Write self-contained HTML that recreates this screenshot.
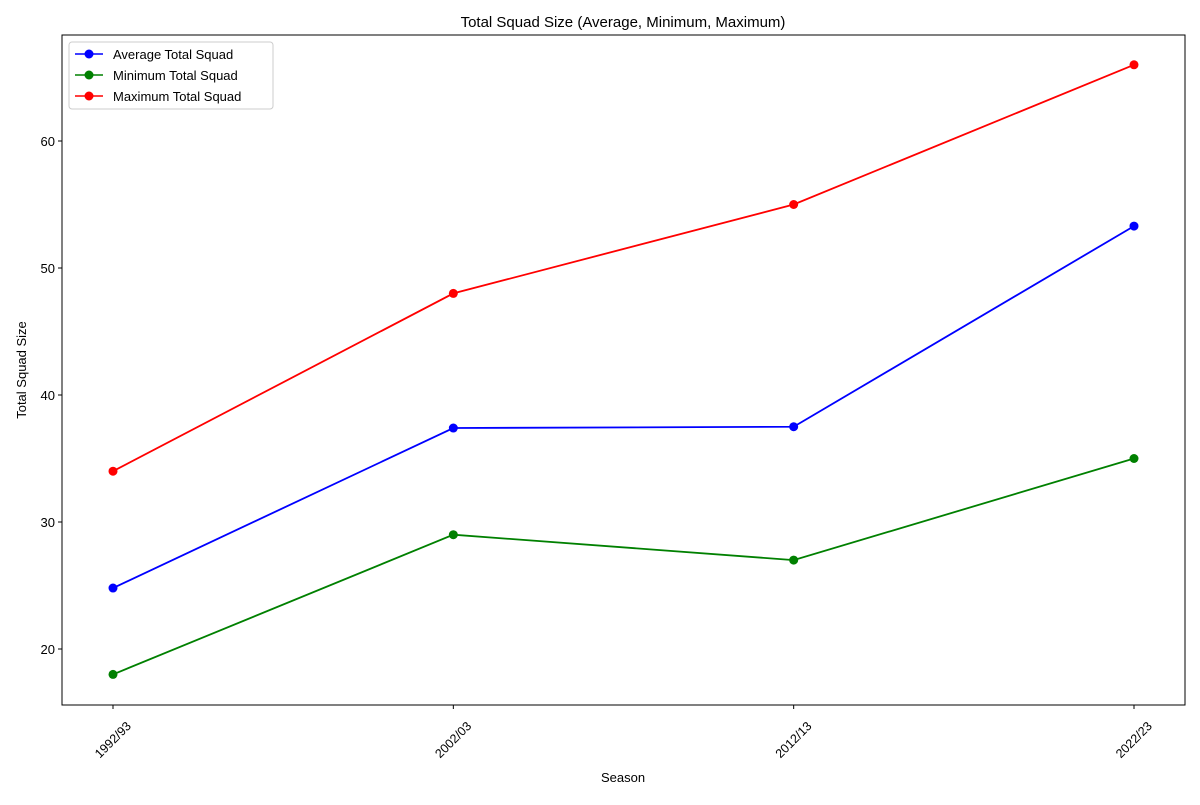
<!DOCTYPE html>
<html><head><meta charset="utf-8"><style>body{margin:0;background:#fff}svg{font-family:"Liberation Sans","DejaVu Sans",sans-serif}</style></head>
<body>
<svg id="chart" width="1200" height="800" xmlns="http://www.w3.org/2000/svg">
<rect width="1200" height="800" fill="#fff"/>
<text x="623" y="27" font-size="15" text-anchor="middle">Total Squad Size (Average, Minimum, Maximum)</text>
<g id="grid"></g>
<g id="series"></g>
<rect x="62" y="35" width="1123" height="670" fill="none" stroke="#000" stroke-width="1"/>
<text x="623" y="782" font-size="13" text-anchor="middle">Season</text>
<text transform="translate(26,370) rotate(-90)" font-size="13" text-anchor="middle">Total Squad Size</text>
<g>
<rect x="69" y="42" width="204" height="67" fill="#fff" fill-opacity="0.8" stroke="#ccc" rx="3"/>
<g><line x1="75" y1="54" x2="103" y2="54" stroke="blue" stroke-width="1.5"/><circle cx="89" cy="54" r="4.5" fill="blue"/><text x="113" y="59" font-size="13">Average Total Squad</text></g>
<g><line x1="75" y1="75" x2="103" y2="75" stroke="green" stroke-width="1.5"/><circle cx="89" cy="75" r="4.5" fill="green"/><text x="113" y="80" font-size="13">Minimum Total Squad</text></g>
<g><line x1="75" y1="96" x2="103" y2="96" stroke="red" stroke-width="1.5"/><circle cx="89" cy="96" r="4.5" fill="red"/><text x="113" y="101" font-size="13">Maximum Total Squad</text></g>
</g>
</svg>
<script>
const categories = ["1992/93","2002/03","2012/13","2022/23"];
const avgValues = [24.8, 37.4, 37.5, 53.3];
const minValues = [18, 29, 27, 35];
const maxValues = [34, 48, 55, 66];
const yTicks = [20, 30, 40, 50, 60];

const NS = "http://www.w3.org/2000/svg";
const xPos = i => 113 + i * (1134 - 113) / (categories.length - 1);
const yPos = v => 649 - (v - 20) * 12.7;
const grid = document.getElementById('grid');
const seriesG = document.getElementById('series');
function mk(tag, attrs, parent){const e=document.createElementNS(NS,tag);for(const k in attrs)e.setAttribute(k,attrs[k]);parent.appendChild(e);return e;}

yTicks.forEach(t=>{
  const y=yPos(t);
  const tk=mk('line',{x1:58,x2:62,y1:y,y2:y,stroke:'#000'},grid);
  
  
  const tx=mk('text',{x:55,y:y+5,'font-size':13,'text-anchor':'end'},grid);
  tx.textContent=t;
  
  
});
categories.forEach((c,i)=>{
  const x=xPos(i);
  const tk=mk('line',{x1:x,x2:x,y1:705,y2:709,stroke:'#000'},grid);
  
  
  const tx=mk('text',{x:0,y:0,'font-size':12.5,'text-anchor':'middle','dominant-baseline':'central',transform:`translate(${x},${740}) rotate(-45)`},grid);
  tx.textContent=c;
  
  
});
[[avgValues,'blue','average'],[minValues,'green','minimum'],[maxValues,'red','maximum']].forEach(([vals,col,nm])=>{
  const pl=mk('polyline',{points:vals.map((v,i)=>xPos(i)+','+yPos(v)).join(' '),fill:'none',stroke:col,'stroke-width':1.8},seriesG);
  
  
  vals.forEach((v,i)=>{
    const c=mk('circle',{cx:xPos(i),cy:yPos(v),r:4.5,fill:col},seriesG);
    
    
  });
});
</script>
</body></html>
